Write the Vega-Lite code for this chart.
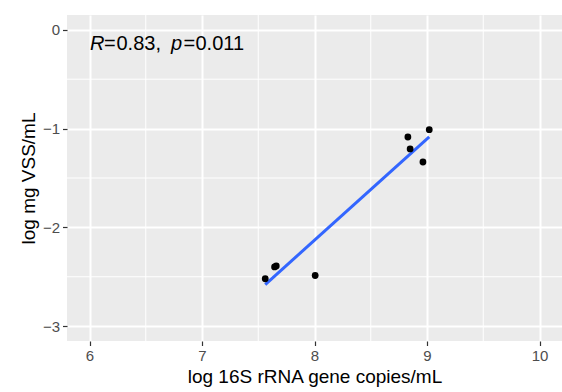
{
  "$schema": "https://vega.github.io/schema/vega-lite/v6.json",
  "autosize": {"type": "none"},
  "width": 495,
  "height": 326,
  "padding": {"left": 67, "top": 15, "right": 0, "bottom": 51},
  "background": "white",
  "config": {
    "view": {"fill": "#EBEBEB", "stroke": null},
    "font": "Liberation Sans",
    "axis": {
      "domain": false,
      "gridColor": "white",
      "gridWidth": 2,
      "tickColor": "#333333",
      "tickWidth": 1.2,
      "tickSize": 4.5,
      "labelFont": "Liberation Sans",
      "labelFontSize": 15,
      "labelColor": "#4D4D4D",
      "labelPadding": 3,
      "titleFont": "Liberation Sans",
      "titleFontSize": 19,
      "titleFontWeight": "normal",
      "titleColor": "black"
    }
  },
  "datasets": {
    "pts": [
      {"x": 7.562, "y": -2.52},
      {"x": 7.645, "y": -2.40},
      {"x": 7.66, "y": -2.39},
      {"x": 8.006, "y": -2.487},
      {"x": 8.83, "y": -1.085},
      {"x": 8.85, "y": -1.206},
      {"x": 8.964, "y": -1.338},
      {"x": 9.02, "y": -1.011}
    ],
    "minorX": [{"x": 6.5}, {"x": 7.5}, {"x": 8.5}, {"x": 9.5}],
    "minorY": [{"y": -0.5}, {"y": -1.5}, {"y": -2.5}],
    "label": [{"x": 6, "y": -0.2}]
  },
  "layer": [
    {
      "data": {"name": "minorX"},
      "mark": {"type": "rule", "color": "white", "strokeWidth": 1},
      "encoding": {
        "x": {"field": "x", "type": "quantitative", "scale": {"domain": [5.8, 10.2], "nice": false, "zero": false}, "axis": {"title": "log 16S rRNA gene copies/mL", "values": [6, 7, 8, 9, 10], "format": "d"}}
      }
    },
    {
      "data": {"name": "minorY"},
      "mark": {"type": "rule", "color": "white", "strokeWidth": 1},
      "encoding": {
        "y": {"field": "y", "type": "quantitative", "scale": {"domain": [-3.15, 0.15], "nice": false, "zero": false}, "axis": {"title": "log mg VSS/mL", "values": [-3, -2, -1, 0], "format": "d"}}
      }
    },
    {
      "data": {"name": "pts"},
      "transform": [{"regression": "y", "on": "x", "method": "linear"}],
      "mark": {"type": "line", "color": "#3366FF", "strokeWidth": 3},
      "encoding": {
        "x": {"field": "x", "type": "quantitative", "scale": {"domain": [5.8, 10.2], "nice": false, "zero": false}, "axis": {"title": "log 16S rRNA gene copies/mL", "values": [6, 7, 8, 9, 10], "format": "d"}},
        "y": {"field": "y", "type": "quantitative", "scale": {"domain": [-3.15, 0.15], "nice": false, "zero": false}, "axis": {"title": "log mg VSS/mL", "values": [-3, -2, -1, 0], "format": "d"}}
      }
    },
    {
      "data": {"name": "pts"},
      "mark": {"type": "circle", "color": "black", "opacity": 1, "size": 46},
      "encoding": {
        "x": {"field": "x", "type": "quantitative", "scale": {"domain": [5.8, 10.2], "nice": false, "zero": false}, "axis": {"title": "log 16S rRNA gene copies/mL", "values": [6, 7, 8, 9, 10], "format": "d"}},
        "y": {"field": "y", "type": "quantitative", "scale": {"domain": [-3.15, 0.15], "nice": false, "zero": false}, "axis": {"title": "log mg VSS/mL", "values": [-3, -2, -1, 0], "format": "d"}}
      }
    },
    {
      "data": {"name": "label"},
      "encoding": {
        "x": {"field": "x", "type": "quantitative", "scale": {"domain": [5.8, 10.2], "nice": false, "zero": false}, "axis": {"title": "log 16S rRNA gene copies/mL", "values": [6, 7, 8, 9, 10], "format": "d"}},
        "y": {"field": "y", "type": "quantitative", "scale": {"domain": [-3.15, 0.15], "nice": false, "zero": false}, "axis": {"title": "log mg VSS/mL", "values": [-3, -2, -1, 0], "format": "d"}}
      },
      "layer": [
        {"mark": {"type": "text", "text": "R", "fontStyle": "italic", "fontSize": 20, "align": "left", "baseline": "alphabetic", "dx": 0.5, "color": "black"}},
        {"mark": {"type": "text", "text": "=", "fontSize": 20, "align": "left", "baseline": "alphabetic", "dx": 14.5, "color": "black"}},
        {"mark": {"type": "text", "text": "0.83,", "fontSize": 20, "align": "left", "baseline": "alphabetic", "dx": 27, "color": "black"}},
        {"mark": {"type": "text", "text": "p", "fontStyle": "italic", "fontSize": 20, "align": "left", "baseline": "alphabetic", "dx": 81.5, "color": "black"}},
        {"mark": {"type": "text", "text": "=", "fontSize": 20, "align": "left", "baseline": "alphabetic", "dx": 94, "color": "black"}},
        {"mark": {"type": "text", "text": "0.011", "fontSize": 20, "align": "left", "baseline": "alphabetic", "dx": 106, "color": "black"}}
      ]
    }
  ]
}
